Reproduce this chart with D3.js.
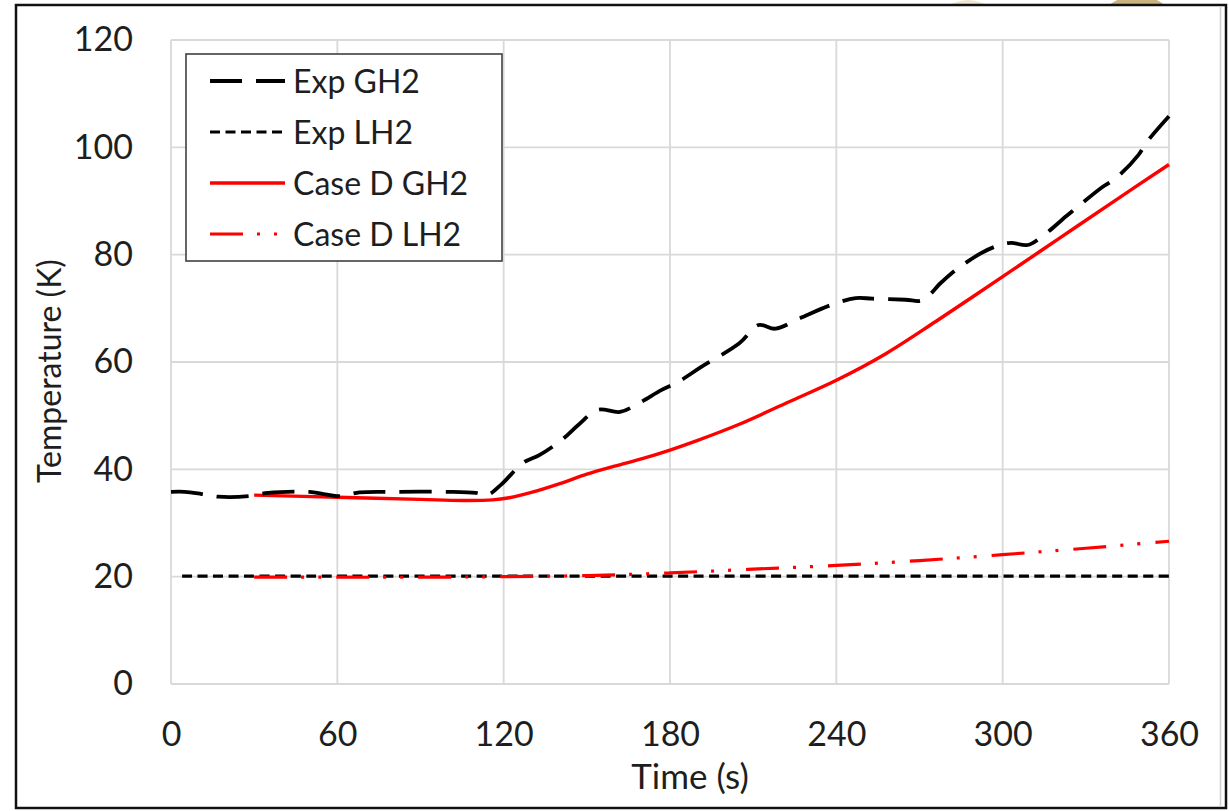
<!DOCTYPE html>
<html><head><meta charset="utf-8">
<script src="https://cdn.jsdelivr.net/npm/d3@7"></script>
<style>
body{margin:0;background:#fff;}
svg{display:block;}
text{font-family:Lato,'Open Sans',sans-serif;fill:#1e1e1e;}
</style>
</head><body>
<svg id="chart" width="1229" height="811"></svg>
<script>
// ---- data ----
const xTicks = [0, 60, 120, 180, 240, 300, 360];
const yTicks = [0, 20, 40, 60, 80, 100, 120];
const seriesNames = ["Exp GH2", "Exp LH2", "Case D GH2", "Case D LH2"];
const xTitle = "Time (s)";
const yTitle = "Temperature (K)";

const expGH2Time = [0,5,11,17,28,35,50,55,61,68,80,100,110,114,119,127,133,141,147,154,162,169,177,183,191,205,212,218,227,238,247,253,265,271,278,284,293,299,303,309,314,323,327,336,341,349,352,360];
const expGH2Temp = [35.8,35.8,35.4,34.9,35.0,35.6,35.8,35.4,35.0,35.7,35.8,35.8,35.6,35.2,37.1,41.2,42.7,45.5,48.3,51.1,50.7,52.4,54.8,56.3,59.0,63.5,66.9,66.2,68.2,70.6,71.9,71.8,71.6,71.5,74.9,77.5,80.5,81.8,82.2,81.8,83.3,87.2,88.9,92.6,94.3,98.6,101.0,105.8];

const expLH2Time = [4, 60, 120, 180, 240, 300, 360];
const expLH2Temp = [20.1, 20.1, 20.1, 20.1, 20.1, 20.1, 20.1];

const caseGH2Time = [30,60,90,105,116,122,130,140,150,160,170,180,190,205,223,240,258,276,300,320,340,360];
const caseGH2Temp = [35.2,34.8,34.4,34.2,34.3,34.7,35.7,37.3,39.1,40.6,42.0,43.6,45.4,48.4,52.6,56.6,61.6,67.6,75.9,82.9,89.9,96.8];

const caseLH2Time = [30,60,90,120,150,180,210,240,270,300,330,360];
const caseLH2Temp = [19.9,19.9,19.9,20.0,20.2,20.7,21.4,22.1,23.0,24.1,25.3,26.6];

// ---- layout ----
const svg = d3.select("#chart");
const W = 1229, H = 811;
const plot = {left: 171, right: 1169, top: 40, bottom: 684};

const x = d3.scaleLinear().domain([0, 360]).range([plot.left, plot.right]);
const y = d3.scaleLinear().domain([0, 120]).range([plot.bottom, plot.top]);

svg.append("rect").attr("width", W).attr("height", H).attr("fill", "#fff");

// watermark fragments peeking above frame
const defs = svg.append("defs");
defs.append("clipPath").attr("id", "topclip").append("rect")
  .attr("x", 0).attr("y", 0).attr("width", W).attr("height", 4.5);
svg.append("circle").attr("cx", 1137).attr("cy", 41).attr("r", 45.5)
  .attr("fill", "#c9b37e").attr("clip-path", "url(#topclip)");
svg.append("circle").attr("cx", 968).attr("cy", 38).attr("r", 38)
  .attr("fill", "#efe6d2").attr("clip-path", "url(#topclip)");

// outer frame
svg.append("rect").attr("x", 16).attr("y", 5).attr("width", 1210).attr("height", 803)
  .attr("fill", "none").attr("stroke", "#111").attr("stroke-width", 2.5);
svg.append("line").attr("x1", 1220.5).attr("x2", 1220.5).attr("y1", 6).attr("y2", 807)
  .attr("stroke", "#cfcfcf").attr("stroke-width", 1.5);

// gridlines
const grid = svg.append("g");
grid.selectAll(".gy").data(yTicks).join("line")
  .attr("x1", plot.left).attr("x2", plot.right)
  .attr("y1", d => y(d)).attr("y2", d => y(d))
  .attr("stroke", "#d9d9d9").attr("stroke-width", 1.8);
grid.selectAll(".gx").data(xTicks).join("line")
  .attr("y1", plot.top).attr("y2", plot.bottom)
  .attr("x1", d => x(d)).attr("x2", d => x(d))
  .attr("stroke", "#d9d9d9").attr("stroke-width", 1.8);

// axes (labels only, Excel style)
const xAxis = svg.append("g").attr("transform", `translate(0,${plot.bottom})`)
  .call(d3.axisBottom(x).tickValues(xTicks).tickSize(0).tickPadding(38));
xAxis.select(".domain").remove();
xAxis.selectAll("text").style("font-size", "34px").style("font-family", "Lato").attr("fill", "#1e1e1e");

const yAxis = svg.append("g").attr("transform", `translate(${plot.left},0)`)
  .call(d3.axisLeft(y).tickValues(yTicks).tickSize(0).tickPadding(38));
yAxis.select(".domain").remove();
yAxis.selectAll("text").style("font-size", "34px").style("font-family", "Lato").attr("fill", "#1e1e1e");

// axis titles
svg.append("text").attr("x", 690).attr("y", 789).attr("text-anchor", "middle")
  .style("font-size", "35px").text(xTitle);
svg.append("text").attr("transform", "translate(61,371) rotate(-90)")
  .attr("text-anchor", "middle").style("font-size", "32px").text(yTitle);

// series
const styles = [
  {color: "#000", width: 3.8, dash: "32,14"},
  {color: "#000", width: 3.2, dash: "10,5.5"},
  {color: "#ff0000", width: 3.4, dash: null},
  {color: "#ff0000", width: 3.2, dash: "33,14,3,14,3,15"}
];
const series = [
  d3.zip(expGH2Time, expGH2Temp),
  d3.zip(expLH2Time, expLH2Temp),
  d3.zip(caseGH2Time, caseGH2Temp),
  d3.zip(caseLH2Time, caseLH2Temp)
];
const line = d3.line().x(d => x(d[0])).y(d => y(d[1])).curve(d3.curveCatmullRom.alpha(0.5));

const drawOrder = [1, 3, 2, 0];
drawOrder.forEach(i => {
  svg.append("path").datum(series[i]).attr("d", line)
    .attr("fill", "none").attr("stroke", styles[i].color)
    .attr("stroke-width", styles[i].width)
    .attr("stroke-dasharray", styles[i].dash);
});

// legend
const lg = svg.append("g");
lg.append("rect").attr("x", 186).attr("y", 54).attr("width", 316).attr("height", 207)
  .attr("fill", "#fff").attr("stroke", "#404040").attr("stroke-width", 1.6);
seriesNames.forEach((name, i) => {
  const yy = 81 + i * 51;
  lg.append("line").attr("x1", 210).attr("x2", 285).attr("y1", yy).attr("y2", yy)
    .attr("stroke", styles[i].color).attr("stroke-width", styles[i].width)
    .attr("stroke-dasharray", styles[i].dash);
  lg.append("text").attr("x", 293).attr("y", yy).attr("dy", "0.36em")
    .style("font-size", "32px").text(name);
});
</script>
</body></html>
